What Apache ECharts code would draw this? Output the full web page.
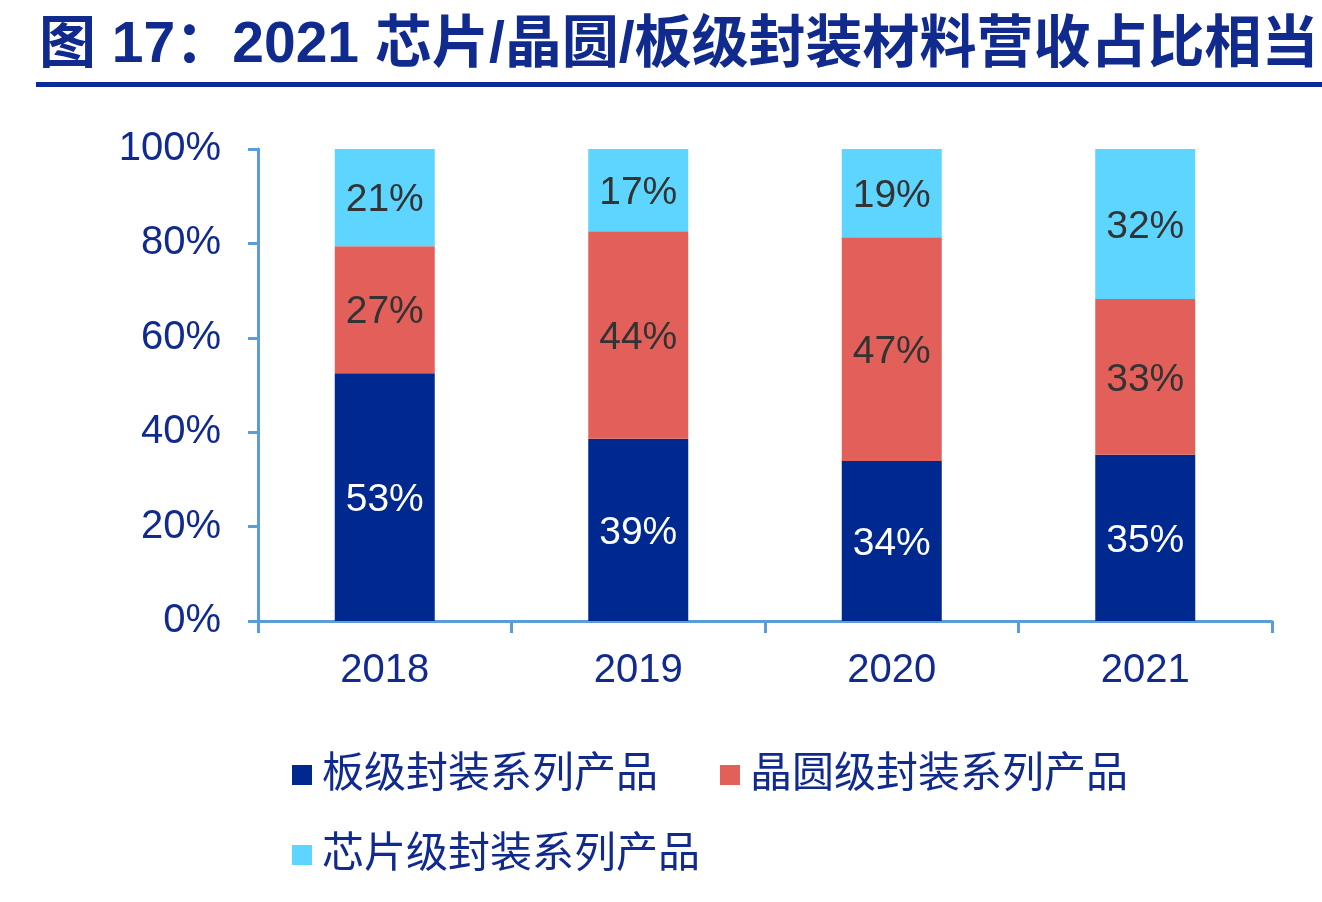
<!DOCTYPE html>
<html>
<head>
<meta charset="utf-8">
<script src="https://cdn.jsdelivr.net/npm/echarts@6/dist/echarts.min.js"></script>
<style>
html,body{margin:0;padding:0;background:#fff;}
#c{width:1322px;height:902px;}
</style>
</head>
<body>
<div id="c"></div>
<script>
const titleText = '图 17：2021 芯片/晶圆/板级封装材料营收占比相当';
const categories = ['2018', '2019', '2020', '2021'];
const seriesNames = ['板级封装系列产品', '晶圆级封装系列产品', '芯片级封装系列产品'];
const boardLevel = [52.5, 38.6, 33.9, 35.2];
const waferLevel = [26.9, 44.0, 47.4, 33.0];
const chipLevel = [20.6, 17.4, 18.7, 31.8];
const yTicks = [0, 20, 40, 60, 80, 100];

const navy = '#102a8e';
const axisColor = '#5b9dd9';
const colors = ['#00298f', '#e3605a', '#5dd5ff'];
const labelColors = ['#ffffff', '#333333', '#333333'];
const valuesList = [boardLevel, waferLevel, chipLevel];
const font = '"Liberation Sans", Arial, "Noto Sans CJK SC", sans-serif';

const chart = echarts.init(document.getElementById('c'), null, {renderer: 'canvas'});
chart.setOption({
  backgroundColor: '#ffffff',
  animation: false,
  title: {
    text: titleText,
    left: 34,
    top: 13,
    textStyle: {
      fontSize: 57,
      fontWeight: 'bold',
      color: navy,
      fontFamily: font
    }
  },
  graphic: [{
    type: 'rect',
    shape: {x: 36, y: 82, width: 1300, height: 5},
    style: {fill: '#0a2a9c'}
  }],
  legend: [{
    data: seriesNames.slice(0, 2),
    left: 287,
    top: 749,
    itemWidth: 20,
    itemHeight: 20,
    itemGap: 62,
    icon: 'rect',
    textStyle: {fontSize: 42, color: navy, fontFamily: font, padding: [0, 0, 0, 5]}
  }, {
    data: seriesNames.slice(2),
    left: 287,
    top: 829,
    itemWidth: 20,
    itemHeight: 20,
    icon: 'rect',
    textStyle: {fontSize: 42, color: navy, fontFamily: font, padding: [0, 0, 0, 5]}
  }],
  grid: {left: 258, right: 50, top: 149, bottom: 281, containLabel: false},
  xAxis: {
    type: 'category',
    data: categories,
    boundaryGap: true,
    axisLine: {lineStyle: {color: axisColor, width: 3}},
    axisTick: {show: true, length: 12, lineStyle: {color: axisColor, width: 3}},
    axisLabel: {fontSize: 40, color: navy, fontFamily: font, margin: 30}
  },
  yAxis: {
    type: 'value',
    min: 0,
    max: 100,
    interval: 20,
    axisLine: {show: true, lineStyle: {color: axisColor, width: 3}},
    axisTick: {show: true, length: 10, lineStyle: {color: axisColor, width: 3}},
    splitLine: {show: false},
    axisLabel: {
      fontSize: 40,
      color: navy,
      fontFamily: font,
      margin: 37,
      formatter: function (v) { return yTicks.indexOf(v) >= 0 ? v + '%' : ''; }
    }
  },
  series: valuesList.map(function (vals, i) {
    return {
      name: seriesNames[i],
      type: 'bar',
      stack: 'total',
      barWidth: 100,
      data: vals,
      itemStyle: {color: colors[i]},
      label: {
        show: true,
        position: 'inside',
        offset: [0, 3],
        fontSize: 39,
        color: labelColors[i],
        fontFamily: font,
        formatter: function (p) { return Math.round(p.value) + '%'; }
      }
    };
  })
});
</script>
</body>
</html>
